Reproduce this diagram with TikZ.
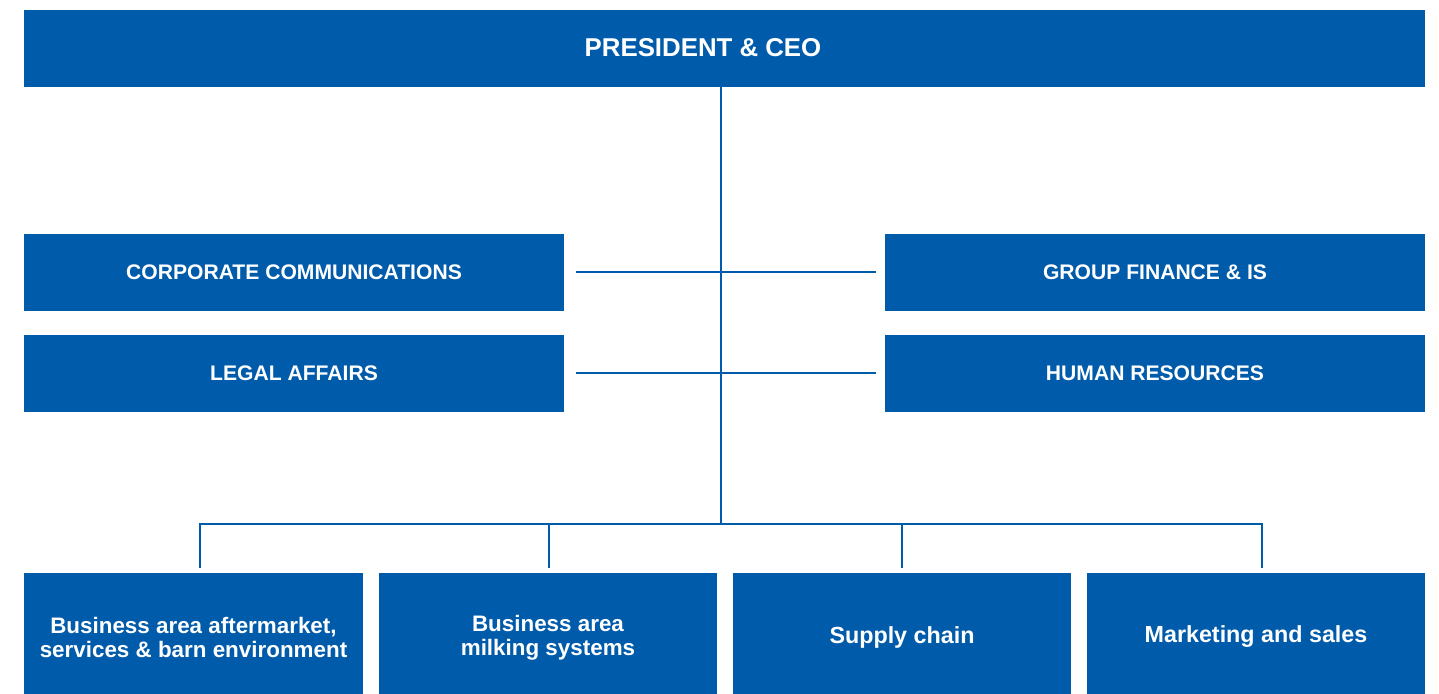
\documentclass[tikz,border=0pt]{standalone}
\usepackage{fontspec}
\setmainfont{Liberation Sans}
\definecolor{cblue}{RGB}{0,91,170}
\begin{document}
\begin{tikzpicture}[x=1pt,y=-1pt,
  orgbox/.style={fill=cblue,text=white,font=\bfseries,inner sep=0pt,align=center,anchor=center},
  staff/.style={orgbox,minimum width=540pt,minimum height=77pt,font=\bfseries\fontsize{21.1}{24}\selectfont},
  bot/.style={orgbox,minimum width=338.5pt,minimum height=128pt,font=\bfseries\fontsize{23.3}{24}\selectfont},
  bottwo/.style={bot,minimum height=129pt,font=\bfseries\fontsize{22.4}{24}\selectfont},
  conn/.style={draw=cblue,line width=1.6pt}]
\clip (0,0) rectangle (1439,693);
\fill[white] (0,0) rectangle (1439,693);
% top
\node[orgbox,minimum width=1401pt,minimum height=77pt] (ceo) at (724.5,48.5) {};
\node[text=white,font=\bfseries\fontsize{25.8}{28}\selectfont,inner sep=0pt] (ceolabel) at (703,47.5) {PRESIDENT \& CEO};
% staff
\node[staff] (cc) at (294,272.5) {CORPORATE COMMUNICATIONS};
\node[staff] (la) at (294,373.5) {LEGAL AFFAIRS};
\node[staff] (gf) at (1155,272.5) {GROUP FINANCE \& IS};
\node[staff] (hr) at (1155,373.5) {HUMAN RESOURCES};
% bottom
\node[bottwo] (b1) at (193.5,637.5) {Business area aftermarket,\\services \& barn environment};
\node[bottwo] (b2) at (548,637.5) {Business area\\milking systems};
\node[bot] (b3) at (902,637) {Supply chain};
\node[bot] (b4) at (1256,637) {Marketing and sales};
% connectors
\coordinate (hub) at (721,524);
\coordinate (l1) at (576,272); \coordinate (r1) at (876,272);
\coordinate (l2) at (576,373); \coordinate (r2) at (876,373);
\coordinate (t1) at (200,568); \coordinate (t2) at (549,568);
\coordinate (t3) at (902,568); \coordinate (t4) at (1262,568);
\draw[conn] (ceo.south -| hub) -- (hub);
\draw[conn] (l1) -- (r1);
\draw[conn] (l2) -- (r2);
\draw[conn] (t1) |- (hub) -| (t4);
\draw[conn] (t2) -- (t2 |- hub);
\draw[conn] (t3) -- (t3 |- hub);
\end{tikzpicture}
\end{document}
